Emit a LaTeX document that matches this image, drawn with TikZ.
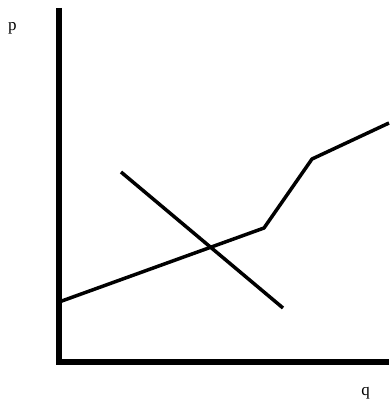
\documentclass[tikz,border=0pt]{standalone}
\usepackage{fontspec}
\setmainfont{Liberation Serif}
\begin{document}
\begin{tikzpicture}[x=1pt,y=-1pt,
  axis/.style={line width=6.5pt},
  curve/.style={line width=3.5pt, line join=round},
  lbl/.style={font=\fontsize{17}{17}\selectfont, inner sep=0pt}]
\useasboundingbox (0,0) rectangle (389,404);
\coordinate (top) at (59,8);
\coordinate (origin) at (59,362);
\coordinate (right) at (389,362);
\draw[axis] (top) -- (origin) -- (right);
\coordinate (s0) at (59,302);
\coordinate (s1) at (264,228);
\coordinate (s2) at (312,159);
\coordinate (s3) at (389,123);
\draw[curve] (s0) -- (s1) -- (s2) -- (s3);
\coordinate (d0) at (121,172);
\coordinate (d1) at (283,308);
\draw[curve] (d0) -- (d1);
\node[lbl] (p) at (12.5,28.5) {p};
\node[lbl] (q) at (365.5,393.5) {q};
\end{tikzpicture}
\end{document}
